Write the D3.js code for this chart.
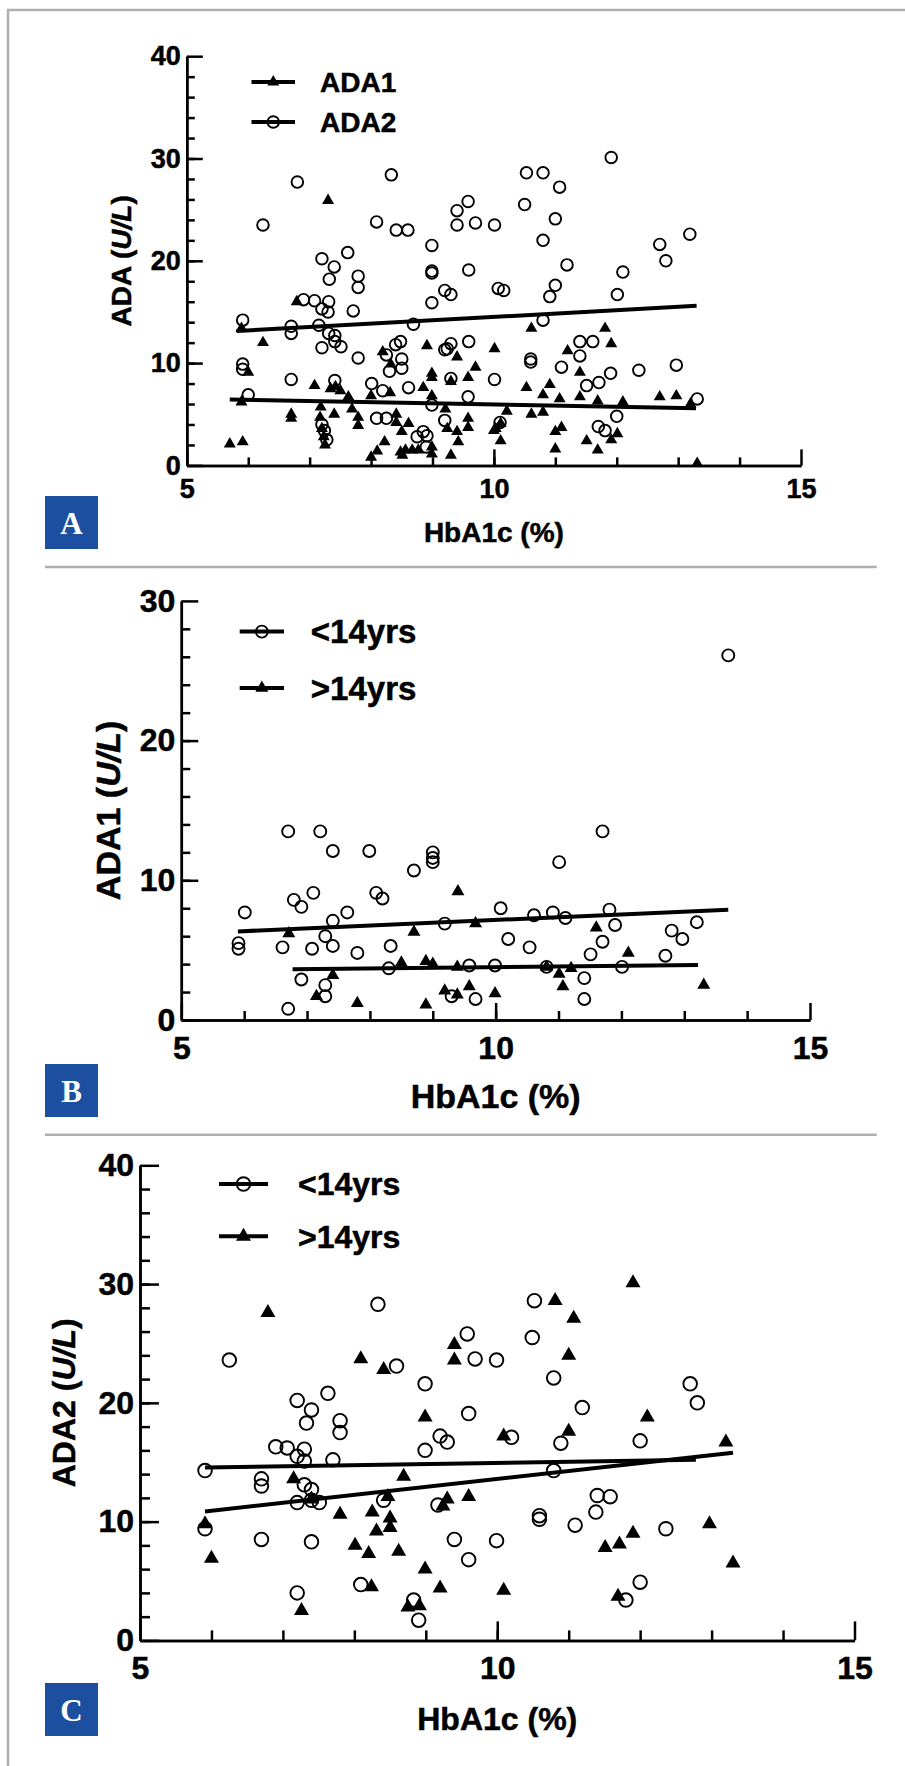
<!DOCTYPE html>
<html>
<head>
<meta charset="utf-8">
<script src="https://cdn.jsdelivr.net/npm/d3@7"></script>
<style>
  html, body { margin: 0; padding: 0; background: #fff; }
  svg text { font-family: "Liberation Sans", Arial, sans-serif; font-weight: bold; fill: #000; stroke: #000; stroke-width: 0.5px; }
</style>
</head>
<body>
<svg id="chart" width="905" height="1766"></svg>
<script>
// ---------- data (HbA1c %, ADA U/L) ----------
// Panel A: all patients
var aAda1 = [[7.30,25.9],[6.79,16.0],[5.89,13.4],[6.24,12.0],[8.19,11.1],[8.32,9.9],[8.91,11.7],[9.40,10.6],[9.70,9.6],[10.01,11.4],
  [6.00,9.1],[7.08,7.8],[7.34,7.5],[7.42,7.7],[7.50,7.3],[5.89,6.2],[7.63,6.7],[8.00,6.8],[8.31,7.1],[8.99,9.0],[8.99,8.6],
  [8.85,7.6],[8.99,6.8],[9.30,8.2],[9.58,8.6],[9.21,5.5],[6.70,5.0],[6.70,4.6],[7.18,5.7],[7.17,4.7],[7.40,5.0],[7.69,5.5],
  [7.79,4.7],[7.79,3.9],[7.20,3.6],[7.23,2.8],[7.25,2.0],[5.70,2.1],[5.91,2.3],[8.41,5.0],[8.41,4.2],[8.61,4.1],[8.50,3.3],
  [8.22,2.3],[8.00,0.8],[8.10,1.4],[8.48,1.3],[8.56,1.5],[8.51,1.0],[8.67,1.5],[8.77,1.5],[8.99,1.8],[8.99,1.1],[9.30,1.0],
  [9.24,3.6],[9.40,3.3],[9.42,2.3],[9.58,4.6],[9.58,3.7],[10.00,3.4],
  [10.61,13.4],[11.81,13.4],[11.91,11.9],[11.20,11.2],[11.40,9.1],[10.53,7.6],[10.91,7.9],[10.80,6.9],[11.07,6.5],[11.40,6.7],
  [11.69,6.3],[12.10,6.2],[12.70,6.7],[12.97,6.8],[13.20,6.0],[10.21,5.3],[10.61,5.0],[10.80,5.2],[10.11,4.1],[10.03,3.6],
  [10.11,2.4],[11.00,3.3],[11.10,3.7],[11.00,1.6],[11.51,2.4],[11.69,1.5],[11.91,2.5],[12.01,3.1],[13.31,0.2]];
var aAda2 = [[6.80,27.7],[8.33,28.4],[6.24,23.5],[8.09,23.8],[8.41,23.0],[8.60,23.0],[9.40,24.9],[9.58,25.8],[9.40,23.5],[9.70,23.7],
  [10.01,23.5],[8.99,21.5],[7.20,20.2],[7.40,19.4],[7.62,20.8],[7.32,18.2],[7.79,18.5],[7.79,17.4],[8.99,18.8],[8.99,19.0],
  [9.59,19.1],[9.20,17.1],[9.30,16.7],[8.99,15.9],[10.07,17.3],[10.16,17.1],[6.90,16.2],[7.08,16.1],[7.31,16.0],[7.20,15.3],
  [7.30,15.0],[7.71,15.1],[5.91,14.2],[6.70,13.6],[6.70,12.9],[7.15,13.7],[7.31,12.9],[7.41,12.7],[8.69,13.8],[7.41,12.1],
  [7.51,11.6],[7.20,11.5],[8.40,11.8],[8.48,12.1],[9.20,11.3],[9.24,11.4],[9.30,11.9],[9.59,12.1],[7.79,10.5],[8.25,10.8],
  [8.50,10.4],[8.50,9.5],[8.30,9.2],[5.91,9.9],[5.91,9.4],[6.00,6.9],[6.70,8.4],[7.41,8.3],[8.01,8.0],[8.19,7.3],[8.61,7.6],
  [9.30,8.5],[9.58,6.7],[10.01,8.4],[8.99,5.9],[9.20,4.4],[8.09,4.6],[8.25,4.6],[7.20,4.0],[7.24,3.4],[7.28,2.5],[8.75,2.8],
  [8.85,3.3],[8.91,2.9],[8.90,1.8],[10.10,4.2],
  [11.91,30.1],[10.53,28.6],[10.80,28.6],[11.07,27.2],[10.50,25.5],[11.00,24.1],[10.80,22.0],[12.70,21.6],[13.19,22.6],
  [12.80,20.0],[11.19,19.6],[12.10,18.9],[11.00,17.6],[10.91,16.5],[12.01,16.7],[10.80,14.2],[11.40,12.1],[11.61,12.1],
  [10.60,10.4],[10.60,10.1],[11.40,10.7],[11.10,9.6],[12.36,9.3],[12.97,9.8],[11.90,9.0],[11.51,7.8],[11.71,8.1],[13.31,6.5],
  [12.00,4.8],[11.70,3.8],[11.81,3.4]];
var aFitAda1 = [5.70, 6.43, 13.29, 5.58];
var aFitAda2 = [5.81, 13.13, 13.30, 15.6];

// Panel B: ADA1 by age
var bLt14 = [[6.70,13.5],[7.21,13.5],[7.41,12.1],[7.99,12.1],[8.70,10.7],[9.00,12.0],[9.00,11.6],[9.00,11.3],[7.10,9.1],[6.79,8.6],
  [6.91,8.1],[8.10,9.1],[8.20,8.7],[6.01,7.7],[7.64,7.7],[7.41,7.1],[10.08,8.0],[9.19,6.9],[7.29,6.0],[5.91,5.5],[5.91,5.1],
  [6.61,5.2],[7.08,5.1],[7.41,5.3],[7.80,4.8],[8.33,5.3],[8.30,3.7],[9.58,3.9],[9.99,3.9],[6.91,2.9],[7.29,2.5],[7.29,1.7],
  [6.70,0.8],[9.30,1.7],[9.68,1.5],[11.70,13.5],[11.01,11.3],[10.61,7.5],[10.91,7.7],[11.11,7.3],[11.81,7.9],[11.90,6.8],
  [10.20,5.8],[10.54,5.2],[11.70,5.6],[11.51,4.7],[12.80,6.4],[12.97,5.8],[13.20,7.0],[12.70,4.6],[10.81,3.8],[12.01,3.8],
  [11.41,3.0],[11.41,1.5],[13.70,26.1]];
var bGt14 = [[9.40,9.2],[9.68,6.9],[8.70,6.3],[6.71,6.2],[8.50,4.1],[8.89,4.2],[9.00,4.0],[9.39,3.8],[7.41,3.2],[7.15,1.7],
  [7.80,1.2],[8.89,1.1],[9.19,2.1],[9.39,1.8],[9.58,2.4],[9.99,1.9],[11.60,6.6],[12.11,4.8],[11.01,3.3],[11.20,3.7],
  [10.81,3.8],[11.07,2.4],[13.31,2.5]];
var bFitLt14 = [5.90, 6.34, 13.70, 7.9];
var bFitGt14 = [6.77, 3.64, 13.22, 3.93];

// Panel C: ADA2 by age
var cLt14 = [[6.25,23.6],[8.33,28.3],[8.59,23.1],[8.99,21.6],[9.58,25.8],[9.69,23.7],[9.99,23.6],[10.52,28.6],[10.49,25.5],
  [10.79,22.1],[11.19,19.6],[9.60,19.1],[7.20,20.2],[7.40,19.4],[7.63,20.8],[7.33,18.3],[7.80,18.5],[7.80,17.5],[9.20,17.2],
  [9.30,16.7],[10.20,17.1],[10.89,16.6],[8.99,16.0],[6.90,16.3],[7.06,16.2],[7.30,16.1],[7.20,15.5],[7.30,15.1],[7.70,15.2],
  [5.91,14.3],[6.70,13.6],[6.70,13.0],[7.30,13.1],[7.40,12.7],[10.79,14.3],[7.20,11.6],[7.40,11.8],[7.51,11.6],[8.41,11.8],
  [9.17,11.4],[10.59,10.5],[10.59,10.2],[11.09,9.7],[11.40,12.2],[11.38,10.8],[11.58,12.1],[5.91,9.4],[6.70,8.5],[7.40,8.3],
  [9.40,8.5],[9.99,8.4],[9.60,6.8],[7.20,4.0],[8.09,4.7],[8.83,3.4],[8.90,1.7],[11.80,3.4],[12.00,16.8],[12.00,4.9],
  [12.36,9.4],[12.70,21.6],[12.80,20.0]];
var cGt14 = [[6.79,27.6],[8.09,23.7],[8.41,22.8],[9.40,24.9],[9.40,23.6],[10.81,28.6],[11.07,27.1],[11.00,24.0],[8.99,18.8],
  [10.09,17.2],[11.00,17.6],[7.15,13.6],[8.69,13.8],[8.47,12.1],[9.30,11.9],[9.60,12.1],[9.24,11.3],[7.40,11.9],[7.80,10.6],
  [8.25,10.8],[8.50,10.3],[8.31,9.2],[8.50,9.5],[5.91,9.8],[8.01,8.0],[8.20,7.3],[8.62,7.5],[6.00,6.9],[8.99,6.0],[8.24,4.5],
  [9.20,4.4],[10.09,4.2],[7.26,2.5],[8.75,2.8],[8.91,2.9],[11.51,7.8],[11.71,8.1],[11.69,3.7],[11.90,30.1],[12.10,18.8],
  [11.90,9.0],[12.97,9.8],[13.20,16.7],[13.30,6.5]];
var cFitLt14 = [5.91, 14.55, 12.78, 15.2];
var cFitGt14 = [5.91, 10.86, 13.30, 15.8];

var xMajorTicks = [5, 10, 15];
var xTitle = "HbA1c (%)";

var svg = d3.select("#chart");
var grey = "#afafb3";

// page frame and dividers
svg.append("path").attr("d", "M8,1766V10H905").attr("fill", "none")
  .attr("stroke", grey).attr("stroke-width", 2.5);
[567, 1134.7].forEach(function(yy) {
  svg.append("line").attr("x1", 45).attr("x2", 876.7).attr("y1", yy).attr("y2", yy)
    .attr("stroke", grey).attr("stroke-width", 2.5);
});

function drawMarker(sel, kind, cfg) {
  if (kind == "circle") {
    sel.append("circle").attr("r", cfg.r).attr("fill", "none")
      .attr("stroke", "#000").attr("stroke-width", 1.9);
  } else {
    var w = cfg.tri;
    sel.append("path").attr("d", d3.symbol().type(d3.symbolTriangle).size(Math.sqrt(3) / 4 * w * w)())
      .attr("fill", "#000");
  }
}

function drawPanel(cfg) {
  var g = svg.append("g");
  var x = d3.scaleLinear().domain([5, 15]).range([cfg.left, cfg.right]);
  var y = d3.scaleLinear().domain([0, cfg.yMax]).range([cfg.bottom, cfg.top]);

  function styleAxis(a) {
    a.selectAll("path, line").attr("stroke", "#000").attr("stroke-width", 2.5);
  }

  // x ticks (inward) and labels
  g.append("g").attr("transform", "translate(0," + cfg.bottom + ")")
    .call(d3.axisTop(x).tickValues(d3.range(6, 15)).tickSize(cfg.minor).tickSizeOuter(0).tickFormat(""))
    .call(styleAxis);
  g.append("g").attr("transform", "translate(0," + cfg.bottom + ")")
    .call(d3.axisTop(x).tickValues(xMajorTicks).tickSize(cfg.major).tickSizeOuter(0).tickFormat(""))
    .call(styleAxis);
  var xl = g.append("g").attr("transform", "translate(0," + cfg.bottom + ")")
    .call(d3.axisBottom(x).tickValues(xMajorTicks).tickSize(0).tickPadding(cfg.xTickBase - 0.71 * cfg.tickFs));
  xl.select(".domain").remove();
  xl.selectAll("text").style("font-size", cfg.tickFs + "px").attr("fill", "#000");

  // y ticks (inward) and labels
  g.append("g").attr("transform", "translate(" + cfg.left + ",0)")
    .call(d3.axisRight(y).tickValues(d3.range(2, cfg.yMax, 2)).tickSize(cfg.minor).tickSizeOuter(0).tickFormat(""))
    .call(styleAxis);
  g.append("g").attr("transform", "translate(" + cfg.left + ",0)")
    .call(d3.axisRight(y).tickValues(d3.range(0, cfg.yMax + 1, 10)).tickSize(cfg.major).tickSizeOuter(0).tickFormat(""))
    .call(styleAxis);
  var yl = g.append("g").attr("transform", "translate(" + cfg.left + ",0)")
    .call(d3.axisLeft(y).tickValues(d3.range(0, cfg.yMax + 1, 10)).tickSize(0).tickPadding(6));
  yl.select(".domain").remove();
  yl.selectAll("text").style("font-size", cfg.tickFs + "px").attr("fill", "#000");

  // axis titles
  g.append("text").attr("x", (cfg.left + cfg.right) / 2).attr("y", cfg.xTitleBase)
    .attr("text-anchor", "middle").style("font-size", cfg.titleFs + "px").text(xTitle);
  var yt = g.append("text")
    .attr("transform", "translate(" + cfg.yTitleX + "," + (cfg.top + cfg.bottom) / 2 + ") rotate(-90)")
    .attr("text-anchor", "middle").style("font-size", cfg.titleFs + "px");
  yt.append("tspan").text(cfg.yName + " (");
  yt.append("tspan").style("font-style", "italic").text("U/L");
  yt.append("tspan").text(")");

  // fit lines
  cfg.series.forEach(function(s) {
    g.append("line")
      .attr("x1", x(s.fit[0])).attr("y1", y(s.fit[1]))
      .attr("x2", x(s.fit[2])).attr("y2", y(s.fit[3]))
      .attr("stroke", "#000").attr("stroke-width", 4);
  });

  // points
  cfg.series.forEach(function(s) {
    g.append("g").selectAll("g").data(s.data).enter().append("g")
      .attr("transform", function(d) { return "translate(" + x(d[0]) + "," + y(d[1]) + ")"; })
      .each(function() { drawMarker(d3.select(this), s.marker, cfg); });
  });

  // legend
  cfg.series.forEach(function(s, i) {
    var ly = cfg.legY[i];
    g.append("line").attr("x1", cfg.legX[0]).attr("x2", cfg.legX[1]).attr("y1", ly).attr("y2", ly)
      .attr("stroke", "#000").attr("stroke-width", 4);
    var m = g.append("g").attr("transform", "translate(" + (cfg.legX[0] + cfg.legX[1]) / 2 + "," + ly + ")");
    drawMarker(m, s.marker, cfg);
    g.append("text").attr("x", cfg.legTextX).attr("y", ly + 0.358 * cfg.legFs)
      .style("font-size", cfg.legFs + "px").text(s.name);
  });

  // panel letter
  g.append("rect").attr("x", 45).attr("y", cfg.boxTop).attr("width", 53).attr("height", 53).attr("fill", "#1d4fa1");
  g.append("text").attr("x", 71.5).attr("y", cfg.boxTop + 27).attr("dy", "0.35em")
    .attr("text-anchor", "middle")
    .style("font-family", "'Liberation Serif', 'DejaVu Serif', serif")
    .style("font-size", "31px").style("fill", "#fff").style("stroke", "none").text(cfg.letter);
}

drawPanel({
  letter: "A", left: 186.8, right: 801, top: 56.2, bottom: 465.4, yMax: 40,
  major: 16, minor: 8, tickFs: 27, legFs: 28, titleFs: 28, r: 5.8, tri: 12,
  xTickBase: 33, xTitleBase: 542, yTitleX: 131, yName: "ADA",
  legX: [251.5, 295], legY: [82, 122], legTextX: 320, boxTop: 496,
  series: [
    { name: "ADA1", marker: "triangle", data: aAda1, fit: aFitAda1 },
    { name: "ADA2", marker: "circle", data: aAda2, fit: aFitAda2 }
  ]
});

drawPanel({
  letter: "B", left: 181.3, right: 810, top: 600.9, bottom: 1020, yMax: 30,
  major: 17, minor: 9, tickFs: 32, legFs: 33, titleFs: 34, r: 6, tri: 13,
  xTickBase: 39, xTitleBase: 1108, yTitleX: 120, yName: "ADA1",
  legX: [239.7, 284], legY: [631.6, 688], legTextX: 310.8, boxTop: 1064,
  series: [
    { name: "<14yrs", marker: "circle", data: bLt14, fit: bFitLt14 },
    { name: ">14yrs", marker: "triangle", data: bGt14, fit: bFitGt14 }
  ]
});

drawPanel({
  letter: "C", left: 140, right: 854.5, top: 1165.3, bottom: 1640.4, yMax: 40,
  major: 19, minor: 10, tickFs: 32, legFs: 32, titleFs: 32, r: 6.8, tri: 15,
  xTickBase: 39, xTitleBase: 1730, yTitleX: 75, yName: "ADA2",
  legX: [219, 268], legY: [1184, 1236.3], legTextX: 298, boxTop: 1683,
  series: [
    { name: "<14yrs", marker: "circle", data: cLt14, fit: cFitLt14 },
    { name: ">14yrs", marker: "triangle", data: cGt14, fit: cFitGt14 }
  ]
});
</script>
</body>
</html>
